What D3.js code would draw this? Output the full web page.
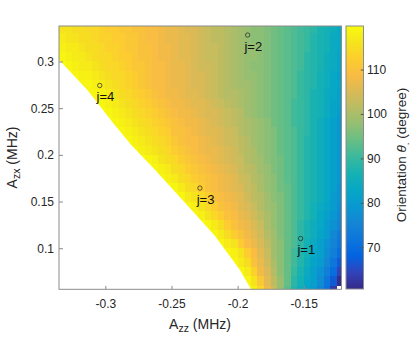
<!DOCTYPE html>
<html>
<head>
<meta charset="utf-8">
<script src="https://cdn.jsdelivr.net/npm/d3@7"></script>
<style>
body { margin: 0; background: #fff; }
text { font-family: "Liberation Sans", Arial, Helvetica, sans-serif; fill: #262626; }
</style>
</head>
<body>
<div id="chart"></div>
<script>
// heatmap grid: A_zz column centres start at azzFirst, one column every azzStep.
// each row of theta is right-aligned to the last column; the blank part is cut by the edge line below
var azzFirst = -0.3325, azzStep = 0.005, nCols = 43;
var azxStep = 0.01;
var azxRows = [0.335, 0.325, 0.315, 0.305, 0.295, 0.285, 0.275, 0.265, 0.255, 0.245,
               0.235, 0.225, 0.215, 0.205, 0.195, 0.185, 0.175, 0.165, 0.155, 0.145,
               0.135, 0.125, 0.115, 0.105, 0.095, 0.085, 0.075, 0.065, 0.055];

// orientation theta (degree)
var theta = [
  [116,116,115,115,114,114,113,112,112,111,111,110,110,109,109,108,107,107,106,105,105,104,103,102,102,101,100,99,98,97,97,96,95,94,93,92,91,90,89,87,86,85,83],
  [117,116,116,115,115,114,113,113,112,112,111,111,110,109,109,108,107,107,106,106,105,104,103,102,102,101,100,99,98,97,97,96,95,94,93,92,91,90,88,87,86,84,83],
  [118,117,117,116,115,115,114,113,113,112,111,111,110,110,109,108,108,107,106,106,105,104,103,103,102,101,100,99,98,98,97,96,95,94,93,92,91,90,88,87,86,84,83],
  [119,118,117,117,116,115,114,114,113,112,112,111,110,110,109,108,108,107,106,106,105,104,103,103,102,101,100,99,98,98,97,96,95,94,93,92,91,89,88,87,85,84,82],
  [120,119,118,117,117,116,115,114,114,113,112,111,111,110,109,109,108,107,107,106,105,104,104,103,102,101,100,99,98,97,97,96,95,94,93,92,91,89,88,87,85,84,82],
  [120,119,118,118,117,116,115,114,114,113,112,111,110,109,109,108,107,107,106,105,105,104,103,102,101,100,99,98,98,97,96,95,94,93,92,90,89,88,86,85,83,81],
  [120,119,119,118,117,116,115,114,113,112,111,110,109,109,108,107,107,106,105,105,104,103,102,101,100,99,99,98,97,96,95,94,93,92,90,89,88,86,85,83,82],
  [120,119,119,118,117,116,115,114,113,112,111,110,109,108,108,107,106,106,105,104,103,102,101,101,100,99,98,97,96,95,94,93,92,90,89,87,86,84,83,81],
  [120,119,118,117,116,115,114,113,112,111,110,109,108,108,107,106,106,105,104,103,102,101,100,99,98,97,96,95,94,93,91,90,89,87,86,84,82,81],
  [120,119,118,117,116,115,114,113,112,111,110,109,108,108,107,106,105,105,104,103,102,101,99,98,97,96,95,94,93,91,90,89,87,86,84,82,80],
  [120,119,118,117,116,115,114,113,112,111,110,109,108,108,107,106,105,104,103,102,101,100,99,98,97,95,94,93,91,90,89,87,85,83,81,79],
  [120,119,118,117,116,115,114,113,112,110,110,109,108,107,106,106,105,104,103,101,100,99,98,97,96,94,93,92,90,89,87,85,83,81,79],
  [120,119,118,117,116,115,114,113,111,110,109,109,108,107,106,105,104,103,102,101,99,98,97,96,94,93,92,90,88,87,85,83,81,79],
  [120,119,118,117,116,115,114,112,111,110,109,108,107,107,106,105,104,102,101,100,98,97,96,94,93,92,90,88,87,85,83,81,79],
  [120,119,118,116,115,114,112,111,110,109,108,107,106,105,104,103,101,100,99,97,96,95,93,92,90,88,87,85,83,81,79],
  [120,119,118,117,115,114,112,111,110,109,108,107,106,105,103,102,101,99,98,96,95,93,92,90,88,87,85,83,81,79],
  [120,119,118,117,115,114,112,111,110,109,108,107,106,104,103,101,100,98,97,95,93,92,90,88,87,85,83,81,79],
  [120,119,117,115,114,112,110,109,108,107,106,105,103,102,100,98,97,95,94,92,90,88,87,85,83,81,78],
  [120,119,117,116,114,112,110,109,108,107,106,104,102,101,99,97,96,94,92,90,88,87,85,83,80,78],
  [120,119,118,116,114,112,110,109,108,106,105,103,101,99,98,96,94,92,90,88,86,84,82,80,77],
  [120,119,118,116,114,112,110,109,107,106,104,102,100,98,96,94,92,90,88,86,83,81,79,76],
  [120,119,117,115,112,110,108,107,105,103,100,98,96,94,92,89,87,85,83,80,78,75],
  [120,119,117,115,112,110,108,106,104,101,99,96,94,92,89,87,85,82,80,76,73],
  [120,119,117,116,112,109,107,105,102,99,97,94,92,89,86,84,81,78,75,72],
  [120,119,118,116,112,109,106,103,99,97,94,91,88,86,83,81,77,74,70],
  [120,119,117,115,110,107,104,100,97,94,91,88,85,82,80,76,72,67],
  [120,119,117,113,108,105,101,97,94,90,87,84,81,78,74,70,64],
  [120,119,116,111,106,102,98,94,89,86,83,81,77,72,67,61],
  [120,118,114,108,103,98,93,88,85,82,80,75,71,63,null]
];

// edge of the blank (no solution) region
var edgeAzz = [-0.3350, -0.3131, -0.2949, -0.2806, -0.2625, -0.2398, -0.2171, -0.1983, -0.1900, -0.1876];
var edgeAzx = [0.3018, 0.2686, 0.2354, 0.2107, 0.1840, 0.1486, 0.1132, 0.0768, 0.0564, 0.0500];

var markLabels = ["j=1", "j=2", "j=3", "j=4"];
var markAzz = [-0.1524, -0.1924, -0.2285, -0.3042];
var markAzx = [0.1104, 0.3283, 0.1644, 0.2743];

var xTicks = [-0.3, -0.25, -0.2, -0.15];
var yTicks = [0.1, 0.15, 0.2, 0.25, 0.3];
var cTicks = [70, 80, 90, 100, 110];

var parula = ["#352a87", "#3243ba", "#0363e1", "#0d75dc", "#1485d4", "#0998d1", "#06a7c6", "#15b1b4",
              "#38b99e", "#65be86", "#92bf73", "#b7bd64", "#d9ba56", "#f8bb44", "#fcce2e", "#f5e41d", "#f9fb0e"];

var width = 415, height = 339;
var cmin = 60.6, cmax = 119.8;

var x = d3.scaleLinear().domain([-0.335, -0.1215]).range([59, 341.5]);
var y = d3.scaleLinear().domain([0.056, 0.338]).range([289.3, 26]);
var cy = d3.scaleLinear().domain([cmin, cmax]).range([289, 26]);

var color = d3.scaleLinear()
    .domain(parula.map(function(c, i) { return cmin + (cmax - cmin) * i / (parula.length - 1); }))
    .range(parula)
    .interpolate(d3.interpolateRgb)
    .clamp(true);

var svg = d3.select("#chart").append("svg")
    .attr("width", width)
    .attr("height", height)
    .style("display", "block");

var defs = svg.append("defs");
defs.append("clipPath").attr("id", "plotclip")
    .append("rect")
    .attr("x", x.range()[0]).attr("y", y.range()[1])
    .attr("width", x.range()[1] - x.range()[0])
    .attr("height", y.range()[0] - y.range()[1]);

var grad = defs.append("linearGradient").attr("id", "cbar")
    .attr("x1", 0).attr("y1", 1).attr("x2", 0).attr("y2", 0);
parula.forEach(function(c, i) {
    grad.append("stop").attr("offset", i / (parula.length - 1)).attr("stop-color", c);
});

// cells
var cells = [];
theta.forEach(function(row, r) {
    var start = nCols - row.length;
    row.forEach(function(v, k) {
        if (v == null) return;
        cells.push({azz: azzFirst + (start + k) * azzStep, azx: azxRows[r], v: v});
    });
});

var plot = svg.append("g").attr("clip-path", "url(#plotclip)");
plot.selectAll("rect")
    .data(cells)
    .enter().append("rect")
    .attr("x", function(d) { return x(d.azz - azzStep / 2); })
    .attr("y", function(d) { return y(d.azx + azxStep / 2); })
    .attr("width", function(d) { return x(d.azz + azzStep / 2) - x(d.azz - azzStep / 2) + 0.5; })
    .attr("height", function(d) { return y(d.azx - azxStep / 2) - y(d.azx + azxStep / 2) + 0.5; })
    .attr("fill", function(d) { return color(d.v); })
    .attr("shape-rendering", "crispEdges");

// blank region below the edge
var xmin = x.domain()[0] - 0.01, ymin = y.domain()[0] - 0.01;
var edgePts = edgeAzz.map(function(a, i) { return [a, edgeAzx[i]]; })
    .concat([[edgeAzz[edgeAzz.length - 1], ymin], [xmin, ymin], [xmin, edgeAzx[0]]]);
plot.append("path")
    .datum(edgePts)
    .attr("d", d3.line().x(function(d) { return x(d[0]); }).y(function(d) { return y(d[1]); }))
    .attr("fill", "#fff");

// axes, ticks pointing inward like matlab
var xAxis = svg.append("g")
    .attr("transform", "translate(0," + y.range()[0] + ")")
    .call(d3.axisBottom(x).tickValues(xTicks).tickSize(-3.5).tickPadding(10.5)
        .tickFormat(function(d) { return String(d); }));
var yAxis = svg.append("g")
    .attr("transform", "translate(" + x.range()[0] + ",0)")
    .call(d3.axisLeft(y).tickValues(yTicks).tickSize(-4).tickPadding(5)
        .tickFormat(function(d) { return String(d); }));

[xAxis, yAxis].forEach(function(a) {
    a.select(".domain").remove();
    a.selectAll(".tick line").attr("stroke", "#8c8c8c");
    a.selectAll(".tick text").style("font-size", "12px").attr("fill", "#262626");
});

svg.append("rect")
    .attr("x", x.range()[0]).attr("y", y.range()[1])
    .attr("width", x.range()[1] - x.range()[0])
    .attr("height", y.range()[0] - y.range()[1])
    .attr("fill", "none").attr("stroke", "#8c8c8c").attr("stroke-width", 1);

// markers
var marks = markLabels.map(function(l, i) { return {label: l, azz: markAzz[i], azx: markAzx[i]}; });
svg.selectAll(".mark").data(marks).enter().append("circle")
    .attr("class", "mark")
    .attr("cx", function(d) { return x(d.azz); })
    .attr("cy", function(d) { return y(d.azx); })
    .attr("r", 2.2)
    .attr("fill", "none").attr("stroke", "#222").attr("stroke-width", 0.7);
svg.selectAll(".mlab").data(marks).enter().append("text")
    .attr("class", "mlab")
    .attr("x", function(d) { return x(d.azz) - 3.2; })
    .attr("y", function(d) { return y(d.azx) + 15.5; })
    .style("font-size", "13px").style("fill", "#111")
    .text(function(d) { return d.label; });

// axis titles
var xt = svg.append("text").attr("x", 200).attr("y", 329).attr("text-anchor", "middle").style("font-size", "14px");
xt.append("tspan").text("A");
xt.append("tspan").attr("dy", 3).style("font-size", "10.5px").text("zz");
xt.append("tspan").attr("dy", -3).text(" (MHz)");

var yt = svg.append("text").attr("transform", "translate(17,157.5) rotate(-90)")
    .attr("text-anchor", "middle").style("font-size", "14px");
yt.append("tspan").text("A");
yt.append("tspan").attr("dy", 3).style("font-size", "10.5px").text("zx");
yt.append("tspan").attr("dy", -3).text(" (MHz)");

// colorbar
var cbx = 346, cbw = 17.5;
svg.append("rect")
    .attr("x", cbx).attr("y", cy.range()[1])
    .attr("width", cbw).attr("height", cy.range()[0] - cy.range()[1])
    .attr("fill", "url(#cbar)")
    .attr("stroke", "#8c8c8c").attr("stroke-width", 1);

var cAxis = svg.append("g")
    .attr("transform", "translate(" + (cbx + cbw) + ",0)")
    .call(d3.axisRight(cy).tickValues(cTicks).tickSize(-2.7).tickPadding(3.5));
cAxis.select(".domain").remove();
cAxis.selectAll(".tick line").attr("stroke", "#555");
cAxis.selectAll(".tick text").style("font-size", "12px").attr("fill", "#262626");

var ct = svg.append("text").attr("transform", "translate(406,155) rotate(-90)")
    .attr("text-anchor", "middle").style("font-size", "13.5px");
ct.append("tspan").text("Orientation ");
ct.append("tspan").style("font-style", "italic").text("θ");
ct.append("tspan").attr("dy", 3).style("font-size", "10px").text(".");
ct.append("tspan").attr("dy", -3).text(" (degree)");
</script>
</body>
</html>
